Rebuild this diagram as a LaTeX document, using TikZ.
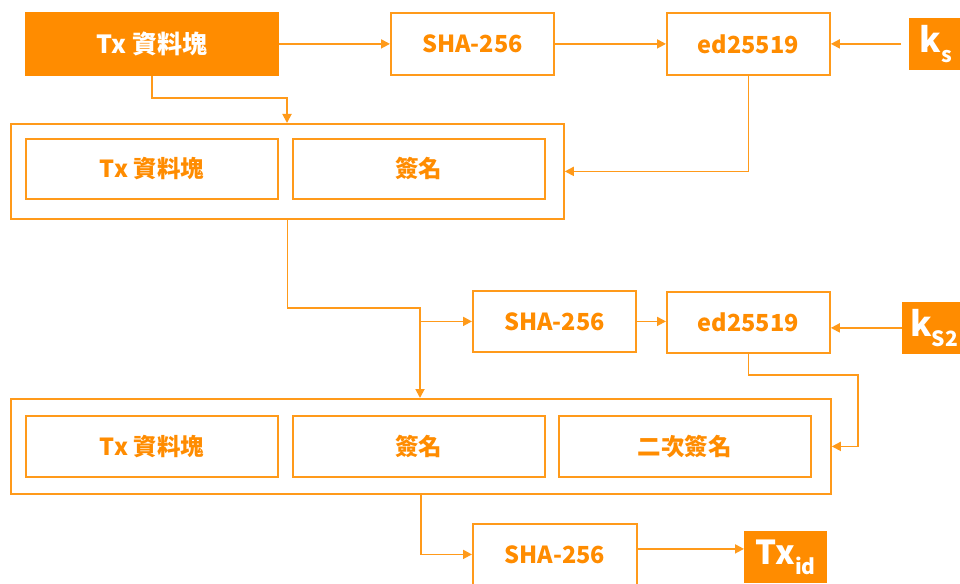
\documentclass[tikz,border=0pt]{standalone}
\usepackage{fontspec}
\newfontfamily\cjk{Noto Sans CJK TC}
\usetikzlibrary{arrows.meta}
\definecolor{org}{HTML}{FF8C00}
\definecolor{lin}{HTML}{FF9A1A}
\tikzset{
  box/.style={draw=lin, line width=1.8pt, fill=white, text=org, inner sep=0pt, anchor=north west,
    font=\cjk\bfseries\fontsize{23.5}{23.5}\selectfont},
  solidbox/.style={box, draw=org, fill=org, text=white},
  grp/.style={draw=lin, line width=1.8pt, inner sep=0pt, anchor=north west},
  arr/.style={draw=lin, line width=1.8pt, -{Triangle[length=9pt,width=9pt]}},
}
\begin{document}
\begin{tikzpicture}[x=1pt,y=-1pt]
\useasboundingbox (0,0) rectangle (960,583);
% row 1
\node[solidbox, minimum width=252pt, minimum height=62pt, font=\cjk\bfseries\fontsize{25}{25}\selectfont] (tx0) at (25,12) {Tx 資料塊};
\node[box, minimum width=163pt, minimum height=62pt] (sha1) at (390,12) {SHA-256};
\node[box, minimum width=163pt, minimum height=62pt] (ed1) at (666,12) {ed25519};
\node[solidbox, minimum width=56pt, minimum height=50pt, font=\cjk\bfseries\fontsize{34}{34}\selectfont] (ks1) at (909,18) {\hspace*{-4pt}k\raisebox{-0.28em}{\fontsize{21}{21}\selectfont s}};
% group 1
\node[grp, minimum width=553pt, minimum height=95pt] (g1) at (10,123) {};
\node[box, minimum width=252pt, minimum height=60pt] (g1a) at (25,138) {Tx 資料塊};
\node[box, minimum width=252pt, minimum height=60pt] (g1b) at (292,138) {簽名};
% row 2
\node[box, minimum width=163pt, minimum height=61pt] (sha2) at (472,290) {SHA-256};
\node[box, minimum width=163pt, minimum height=61pt] (ed2) at (666,291) {ed25519};
\node[solidbox, minimum width=60pt, minimum height=50pt, font=\cjk\bfseries\fontsize{34}{34}\selectfont] (ks2) at (902,302) {\hspace*{2pt}k\raisebox{-0.28em}{\fontsize{21}{21}\selectfont S2}};
% group 2
\node[grp, minimum width=820pt, minimum height=95pt] (g2) at (10,398) {};
\node[box, minimum width=252pt, minimum height=61pt] (g2a) at (25,415) {Tx 資料塊};
\node[box, minimum width=252pt, minimum height=61pt] (g2b) at (292,415) {簽名};
\node[box, minimum width=252pt, minimum height=61pt] (g2c) at (558,415) {二次簽名};
% row 3
\node[box, minimum width=164pt, minimum height=61pt] (sha3) at (472,523) {SHA-256};
\node[solidbox, minimum width=81pt, minimum height=50pt, font=\cjk\bfseries\fontsize{33}{33}\selectfont] (txid) at (744,531) {Tx\raisebox{-0.3em}{\fontsize{21}{21}\selectfont id}};
% connectors
\draw[arr] (tx0) -- (sha1);
\draw[arr] (sha1) -- (ed1);
\draw[arr, shorten <=8pt] (ks1.west) -- (ks1.west -| ed1.east);
\coordinate (c1) at (287,98);
\draw[arr] (tx0.south) |- (c1) -- (c1 |- g1.north);
\draw[arr] (ed1.south) |- (g1.east);
\coordinate (c2) at (420,308);
\draw[arr] (g1.south) |- (c2) -- (c2 |- g2.north);
\draw[arr] (c2 |- sha2.west) -- (sha2.west);
\draw[arr] (sha2.east) -- (sha2.east -| ed2.west);
\draw[arr] (ks2.west) -- (ks2.west -| ed2.east);
\coordinate (c3) at (858,375);
\draw[arr] (ed2.south) |- (c3) |- (g2.east);
\draw[arr] (g2.south) |- (sha3.west);
\draw[arr] ([yshift=5.5pt]sha3.east) -- ([yshift=5.5pt]sha3.east -| txid.west);
\end{tikzpicture}
\end{document}
